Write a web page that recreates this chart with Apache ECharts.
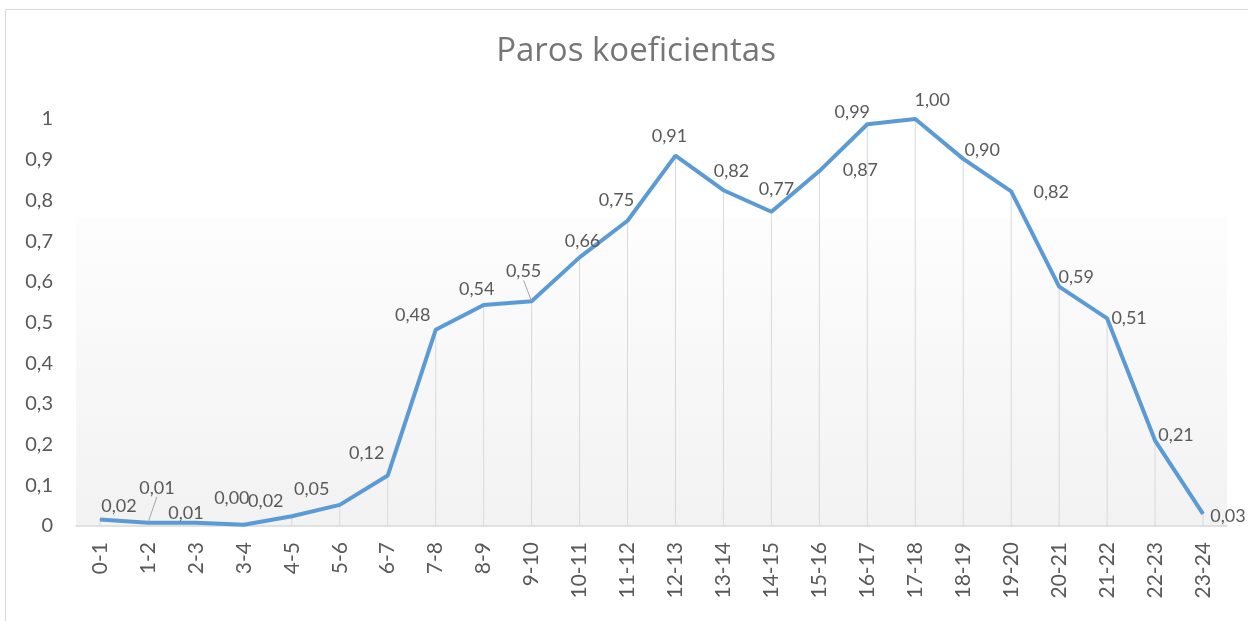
<!DOCTYPE html>
<html>
<head>
<meta charset="utf-8">
<script src="https://cdn.jsdelivr.net/npm/echarts@6/dist/echarts.min.js"></script>
<style>
  html, body { margin: 0; padding: 0; background: #fff; }
  #main { width: 1248px; height: 621px; }
</style>
</head>
<body>
<div id="main"></div>
<script>
const hours = ['0-1', '1-2', '2-3', '3-4', '4-5', '5-6', '6-7', '7-8', '8-9', '9-10', '10-11', '11-12',
  '12-13', '13-14', '14-15', '15-16', '16-17', '17-18', '18-19', '19-20', '20-21', '21-22', '22-23', '23-24'];
const coef = [0.016, 0.008, 0.008, 0.003, 0.024, 0.052, 0.124, 0.482, 0.543, 0.552, 0.66, 0.75,
  0.91, 0.825, 0.772, 0.872, 0.987, 1.0, 0.902, 0.822, 0.588, 0.51, 0.21, 0.03];
const yTicks = [0, 0.1, 0.2, 0.3, 0.4, 0.5, 0.6, 0.7, 0.8, 0.9, 1];

// where each data label sits, relative to its point (Excel moved them around by hand)
const labelShift = [[19, -13], [9, -35], [-10, -10], [-12, -27], [-26, -15], [-28, -16], [-21, -22],
  [-23, -15], [-7, -16], [-8, -30], [3, -16], [-11, -21], [-6, -19], [8, -19], [5, -23],
  [41, -1], [-15, -12], [17, -19], [19, -9], [40, 1], [17, -9], [22, 0], [21, -5], [25, 2]];
const withLeader = [1, 9];

const font = 'Lato, "Open Sans", sans-serif';
const grey = '#595959';
const fmt = v => v.toFixed(2).replace('.', ',');

const chart = echarts.init(document.getElementById('main'), null, { renderer: 'canvas' });

chart.setOption({
  animation: false,
  backgroundColor: '#fff',
  textStyle: { fontFamily: font },
  title: {
    text: 'Paros koeficientas',
    left: 631,
    textAlign: 'center',
    top: 30,
    textStyle: { fontFamily: '"Open Sans", sans-serif', fontSize: 33, fontWeight: 'normal', color: '#767676' }
  },
  graphic: [{
    type: 'rect',
    shape: { x: 5.5, y: 9.5, width: 1300, height: 700 },
    style: { fill: 'none', stroke: '#d9d9d9', lineWidth: 1 },
    silent: true
  }],
  grid: {
    left: 76, right: 21, top: 119, bottom: 95,
    show: true,
    borderWidth: 0,
    backgroundColor: {
      type: 'linear', x: 0, y: 0, x2: 0, y2: 1,
      colorStops: [
        { offset: 0, color: '#ffffff' },
        { offset: 0.24, color: '#ffffff' },
        { offset: 0.241, color: '#fdfdfd' },
        { offset: 1, color: '#f2f2f2' }
      ]
    }
  },
  xAxis: {
    type: 'category',
    data: hours,
    boundaryGap: true,
    axisTick: { show: false },
    axisLine: { lineStyle: { color: '#d9d9d9', width: 1.5 } },
    axisLabel: { rotate: 90, interval: 0, margin: 16, fontSize: 21, color: grey, fontFamily: font }
  },
  yAxis: {
    type: 'value',
    min: yTicks[0],
    max: yTicks[yTicks.length - 1],
    interval: 0.1,
    splitLine: { show: false },
    axisLine: { show: false },
    axisTick: { show: false },
    axisLabel: {
      margin: 23, fontSize: 20, color: grey, fontFamily: font,
      formatter: v => String(Math.round(v * 10) / 10).replace('.', ',')
    }
  },
  series: [
    {
      // drop lines from each point down to the axis
      type: 'bar',
      data: coef,
      barWidth: 1,
      silent: true,
      itemStyle: { color: '#d9d9d9' },
      z: 1
    },
    {
      type: 'line',
      data: coef.map((v, i) => ({
        value: v,
        labelLine: { show: withLeader.includes(i) }
      })),
      symbol: 'circle',
      symbolSize: 1,
      showSymbol: true,
      lineStyle: { color: '#5b9bd5', width: 4 },
      itemStyle: { color: '#5b9bd5' },
      label: {
        show: true,
        position: 'inside',
        fontSize: 18,
        color: grey,
        fontFamily: font,
        formatter: p => fmt(p.value)
      },
      labelLine: { show: false, lineStyle: { color: '#a6a6a6', width: 1 } },
      labelLayout: p => ({ dx: labelShift[p.dataIndex][0], dy: labelShift[p.dataIndex][1] }),
      z: 3
    }
  ]
});
</script>
</body>
</html>
